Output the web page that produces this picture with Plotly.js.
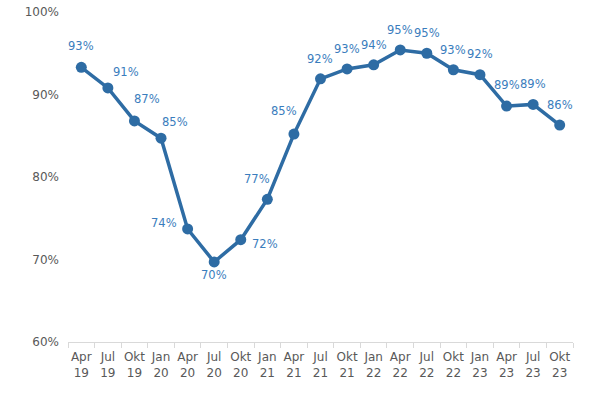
<!DOCTYPE html>
<html>
<head>
<meta charset="utf-8">
<script src="https://cdn.plot.ly/plotly-3.0.1.min.js"></script>
<style>html,body{margin:0;padding:0;background:#fff;}#chart{width:600px;height:395px;}</style>
</head>
<body>
<div id="chart"></div>
<script>
const categories = ["Apr<br>19","Jul<br>19","Okt<br>19","Jan<br>20","Apr<br>20","Jul<br>20","Okt<br>20","Jan<br>21","Apr<br>21","Jul<br>21","Okt<br>21","Jan<br>22","Apr<br>22","Jul<br>22","Okt<br>22","Jan<br>23","Apr<br>23","Jul<br>23","Okt<br>23"];
const values = [93.3, 90.8, 86.8, 84.7, 73.7, 69.7, 72.4, 77.3, 85.2, 91.9, 93.1, 93.6, 95.4, 95.0, 93.0, 92.4, 88.6, 88.8, 86.3];
const labels = ["93%","91%","87%","85%","74%","70%","72%","77%","85%","92%","93%","94%","95%","95%","93%","92%","89%","89%","86%"];
const yTickVals = [60, 70, 80, 90, 100];
const yTickText = ["60%","70%","80%","90%","100%"];

// label placement offsets (pixels) per point: [dx, dy]
const labelShiftX = [0, 18, 13, 14, -24, 0, 24, -10, -10, -1, 0, 0, 0, 0, 0, 0, 0, 0, 0];
const labelShiftY = [21, 16, 22, 16, 6, -13, -4, 20, 23, 20, 20, 20, 20, 20, 20, 21, 21, 20, 20];

const blue = "#2E6CA4";
const trace = {
  x: categories,
  y: values,
  type: "scatter",
  mode: "lines+markers",
  line: {color: blue, width: 3.5},
  marker: {color: blue, size: 11},
  cliponaxis: false,
  hoverinfo: "none"
};
const annotations = categories.map((c, i) => ({
  x: c, y: values[i], xref: "x", yref: "y",
  text: labels[i], showarrow: false,
  xanchor: "center", yanchor: "middle",
  xshift: labelShiftX[i], yshift: labelShiftY[i],
  font: {family: "DejaVu Sans", size: 11.5, color: "#3A7DBD"}
}));
const layout = {
  width: 600, height: 395,
  margin: {l: 68, r: 27, t: 12, b: 53},
  paper_bgcolor: "#fff", plot_bgcolor: "#fff",
  showlegend: false,
  font: {family: "DejaVu Sans", size: 12, color: "#595959"},
  annotations: annotations,
  xaxis: {
    type: "category",
    showgrid: false, zeroline: false,
    showline: true, linecolor: "#D9D9D9", linewidth: 1,
    ticks: "outside", tickson: "boundaries", ticklen: 5, tickcolor: "#D9D9D9",
    ticklabelstandoff: 4,
    tickfont: {family: "DejaVu Sans", size: 12, color: "#595959"},
    tickangle: 0,
    range: [-0.5, 18.5]
  },
  yaxis: {
    range: [60, 100],
    tickvals: yTickVals, ticktext: yTickText,
    showgrid: false, zeroline: false, showline: false,
    ticks: "", ticklabelstandoff: 8,
    tickfont: {family: "DejaVu Sans", size: 12, color: "#595959"}
  }
};
Plotly.newPlot("chart", [trace], layout, {displayModeBar: false, staticPlot: true});
</script>
</body>
</html>
